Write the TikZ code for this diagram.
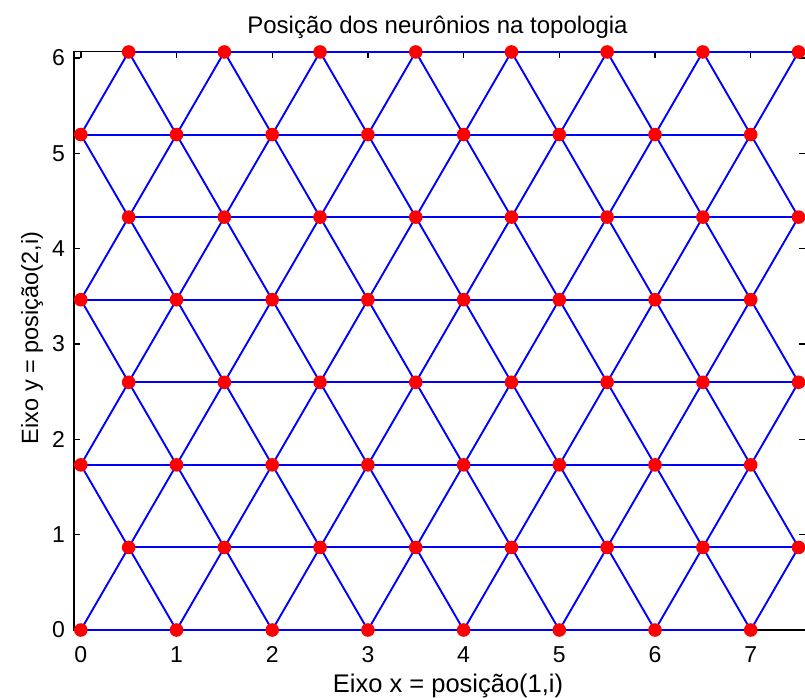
\documentclass[tikz,border=0pt]{standalone}
\usepackage{fontspec}
\setmainfont{Liberation Sans}
\begin{document}
\begin{tikzpicture}[x=1pt,y=-1pt,
  edge/.style={blue, line width=1.9pt},
  frame/.style={black, line width=1.4pt},
  tickmark/.style={black, line width=1.4pt},
  dot/.style={red},
  ticklab/.style={font=\fontsize{23}{26}\selectfont, inner sep=0pt},
  titlestyle/.style={font=\fontsize{24}{28}\selectfont, inner sep=0pt},
  labstyle/.style={font=\fontsize{25.5}{29}\selectfont, inner sep=0pt},
  ylabstyle/.style={font=\fontsize{23.5}{27}\selectfont, inner sep=0pt},
  ]
\useasboundingbox (0,0) rectangle (805,697);
\fill[white] (0,0) rectangle (805,697);
% axes frame
\draw[frame] (74,630) -- (74,51.7) -- (806,51.7) -- (806,630) -- cycle;
% texts
\node[titlestyle, anchor=base] (title) at (437.5,33) {Posição dos neurônios na topologia};
\node[labstyle, anchor=base] (xlab) at (448,692) {Eixo x = posição(1,i)};
\node[ylabstyle, anchor=base, rotate=90] (ylab) at (38,338) {Eixo y = posição(2,i)};
\begin{scope}[shift={(80.8,630)}, x=95.7pt, y=95.35pt]
  % ticks and tick labels
  \foreach \i in {0,...,7} {
    \draw[tickmark] (\i,0) -- ++(0pt,6pt);
    \draw[tickmark] (\i,6.062) -- ++(0pt,-6pt);
    \node[ticklab, anchor=base] (xt\i) at ([yshift=-32pt]\i,0) {\i};
  }
  \foreach \j in {0,...,6} {
    \draw[tickmark] (-0.071,\j) -- ++(6pt,0pt);
    \draw[tickmark] (7.57,\j) -- ++(-6pt,0pt);
    \node[ticklab, anchor=east] (yt\j) at ([xshift=-9pt]-0.071,\j) {\j};
  }
  % neuron positions
  \foreach \j in {0,...,7} {
    \foreach \i in {0,...,7} {
      \pgfmathsetmacro{\px}{\i+0.5*mod(\j,2)}
      \pgfmathsetmacro{\py}{\j*0.8660254}
      \coordinate (n-\i-\j) at (\px,\py);
    }
  }
  % horizontal connections
  \foreach \j in {0,...,7} {
    \draw[edge] (n-0-\j) -- (n-7-\j);
  }
  % diagonal connections
  \foreach \j in {0,...,6} {
    \pgfmathtruncatemacro{\jn}{\j+1}
    \pgfmathtruncatemacro{\odd}{mod(\j,2)}
    \foreach \i in {0,...,7} {
      \ifnum\odd=0
        \ifnum\i>0
          \pgfmathtruncatemacro{\il}{\i-1}
          \draw[edge] (n-\i-\j) -- (n-\il-\jn);
        \fi
        \draw[edge] (n-\i-\j) -- (n-\i-\jn);
      \else
        \draw[edge] (n-\i-\j) -- (n-\i-\jn);
        \ifnum\i<7
          \pgfmathtruncatemacro{\ir}{\i+1}
          \draw[edge] (n-\i-\j) -- (n-\ir-\jn);
        \fi
      \fi
    }
  }
  % neurons
  \foreach \j in {0,...,7} {
    \foreach \i in {0,...,7} {
      \fill[dot] (n-\i-\j) circle[radius=6.8pt];
    }
  }
\end{scope}
\end{tikzpicture}
\end{document}
